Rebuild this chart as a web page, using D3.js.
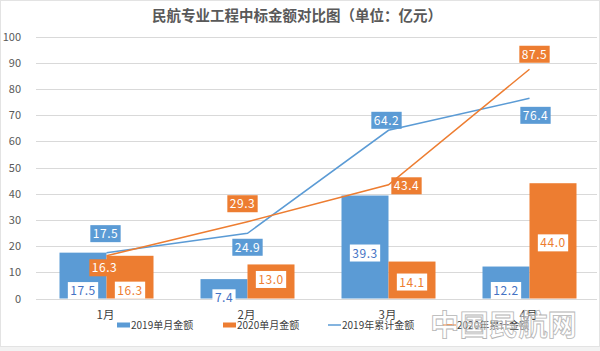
<!DOCTYPE html>
<html>
<head>
<meta charset="utf-8">
<script src="https://cdn.jsdelivr.net/npm/d3@7"></script>
<style>
  body { margin: 0; background: #f2f2f2; }
  svg { display: block; }
  text { font-family: "Noto Sans CJK SC", "Noto Sans", sans-serif; }
</style>
</head>
<body>
<svg id="chart" width="600" height="351"></svg>
<script>
// 数据
let months = ["1月", "2月", "3月", "4月"]
let month2019 = [17.5, 7.4, 39.3, 12.2]
let month2020 = [16.3, 13.0, 14.1, 44.0]
let total2019 = [17.5, 24.9, 64.2, 76.4]
let total2020 = [16.3, 29.3, 43.4, 87.5]
let yTicks = [0, 10, 20, 30, 40, 50, 60, 70, 80, 90, 100]

let width = 600
let height = 351
let blue = "#5b9bd5"
let orange = "#ed7d31"

// 标签偏移 (像素)
let barNudge = { s2019: [15, 9, 6, 8], s2020: [13, -2, 2, 2] }
let lineNudge = {
    t2019: [[-1, -19], [0, 14], [-2, -10], [6, 17]],
    t2020: [[-2, 12], [-5, -18], [18, 1], [5, -15]]
}

let svg = d3.select("#chart")

// 背景与边框
svg.append("rect")
    .attr("x", 0.5).attr("y", 0.5)
    .attr("width", width - 1).attr("height", 346)
    .attr("fill", "#fff")
    .attr("stroke", "#e3e3e3")

// 比例尺
let xScale = d3.scaleBand()
    .domain(months)
    .range([36, 600])
    .paddingInner(1 / 3)
    .paddingOuter(1 / 6)

let subScale = d3.scaleBand()
    .domain(["s2019", "s2020"])
    .range([0, xScale.bandwidth()])

let yScale = d3.scaleLinear()
    .domain([0, 100])
    .range([298.5, 36.5])

// 标题
svg.append("text")
    .attr("x", 297).attr("y", 21)
    .attr("text-anchor", "middle")
    .attr("font-size", "14.5px")
    .attr("font-weight", "bold")
    .attr("fill", "#595959")
    .text("民航专业工程中标金额对比图（单位：亿元）")

// 网格线
svg.append("g")
    .selectAll("line")
    .data(yTicks)
    .enter().append("line")
    .attr("x1", 36).attr("x2", 597)
    .attr("y1", d => Math.round(yScale(d)) + 0.5)
    .attr("y2", d => Math.round(yScale(d)) + 0.5)
    .attr("stroke", "#d9d9d9")
    .attr("stroke-width", 1)

// y轴刻度
svg.append("g")
    .selectAll("text")
    .data(yTicks)
    .enter().append("text")
    .attr("x", 21)
    .attr("y", d => yScale(d) + 4)
    .attr("text-anchor", "end")
    .attr("font-size", "11px")
    .attr("fill", "#595959")
    .text(d => d)

// x轴标签
svg.append("g")
    .selectAll("text")
    .data(months)
    .enter().append("text")
    .attr("x", d => xScale(d) + xScale.bandwidth() / 2 - 1)
    .attr("y", 319)
    .attr("text-anchor", "middle")
    .attr("font-size", "11.5px")
    .attr("fill", "#404040")
    .text(d => d)

// 柱子
let barSeries = [
    { key: "s2019", values: month2019, color: blue, text: "#4472c4" },
    { key: "s2020", values: month2020, color: orange, text: orange }
]

let barG = svg.append("g")
barSeries.forEach(s => {
    barG.selectAll(".bar-" + s.key)
        .data(s.values)
        .enter().append("rect")
        .attr("class", "bar-" + s.key)
        .attr("x", (d, i) => xScale(months[i]) + subScale(s.key))
        .attr("width", subScale.bandwidth())
        .attr("y", d => yScale(d))
        .attr("height", d => yScale(0) - yScale(d))
        .attr("fill", s.color)
})

// 折线
let lineSeries = [
    { key: "t2019", values: total2019, color: blue },
    { key: "t2020", values: total2020, color: orange }
]
let line = d3.line()
    .x((d, i) => xScale(months[i]) + xScale.bandwidth() / 2)
    .y(d => yScale(d))

lineSeries.forEach(s => {
    svg.append("path")
        .datum(s.values)
        .attr("d", line)
        .attr("fill", "none")
        .attr("stroke", s.color)
        .attr("stroke-width", 1.5)
})

// 标签框
function drawLabel(g, x, y, txt, boxFill, txtFill) {
    let lg = g.append("g").attr("transform", "translate(" + x + "," + y + ")")
    let t = lg.append("text")
        .attr("text-anchor", "middle")
        .attr("y", 4.5)
        .attr("font-size", "12px")
        .attr("letter-spacing", "0.5px")
        .attr("fill", txtFill)
        .text(txt)
    let bb = t.node().getBBox()
    lg.insert("rect", "text")
        .attr("x", -bb.width / 2 - 2.5)
        .attr("y", -8.5)
        .attr("width", bb.width + 5)
        .attr("height", 17)
        .attr("fill", boxFill)
}

let labelG = svg.append("g")

barSeries.forEach(s => {
    s.values.forEach((d, i) => {
        let cx = xScale(months[i]) + subScale(s.key) + subScale.bandwidth() / 2
        let cy = (yScale(d) + yScale(0)) / 2 + barNudge[s.key][i]
        drawLabel(labelG, cx, cy, d.toFixed(1), "#fff", s.text)
    })
})

lineSeries.forEach(s => {
    s.values.forEach((d, i) => {
        let cx = xScale(months[i]) + xScale.bandwidth() / 2 + lineNudge[s.key][i][0]
        let cy = yScale(d) + lineNudge[s.key][i][1]
        drawLabel(labelG, cx, cy, d.toFixed(1), s.color, "#fff")
    })
})

// 图例
let legendItems = [
    { name: "2019单月金额", color: blue, type: "rect", x: 117 },
    { name: "2020单月金额", color: orange, type: "rect", x: 223 },
    { name: "2019年累计金额", color: blue, type: "line", x: 328 },
    { name: "2020年累计金额", color: orange, type: "line", x: 443 }
]
let legend = svg.append("g")
legendItems.forEach(item => {
    if (item.type == "rect") {
        legend.append("rect")
            .attr("x", item.x).attr("y", 322.5)
            .attr("width", 13).attr("height", 5)
            .attr("fill", item.color)
    } else {
        legend.append("line")
            .attr("x1", item.x).attr("x2", item.x + 13)
            .attr("y1", 325).attr("y2", 325)
            .attr("stroke", item.color)
            .attr("stroke-width", 1.5)
    }
    legend.append("text")
        .attr("x", item.x + 14)
        .attr("y", 329)
        .attr("font-size", "10px")
        .attr("fill", "#404040")
        .text(item.name)
})

// 水印
svg.append("text")
    .attr("x", 430).attr("y", 336)
    .attr("font-size", "29px")
    .attr("font-weight", "bold")
    .attr("fill", "#fff")
    .attr("fill-opacity", 0.35)
    .attr("stroke", "#b5b5b5")
    .attr("stroke-width", 0.8)
    .attr("textLength", 147)
    .attr("lengthAdjust", "spacingAndGlyphs")
    .text("中国民航网")
</script>
</body>
</html>
